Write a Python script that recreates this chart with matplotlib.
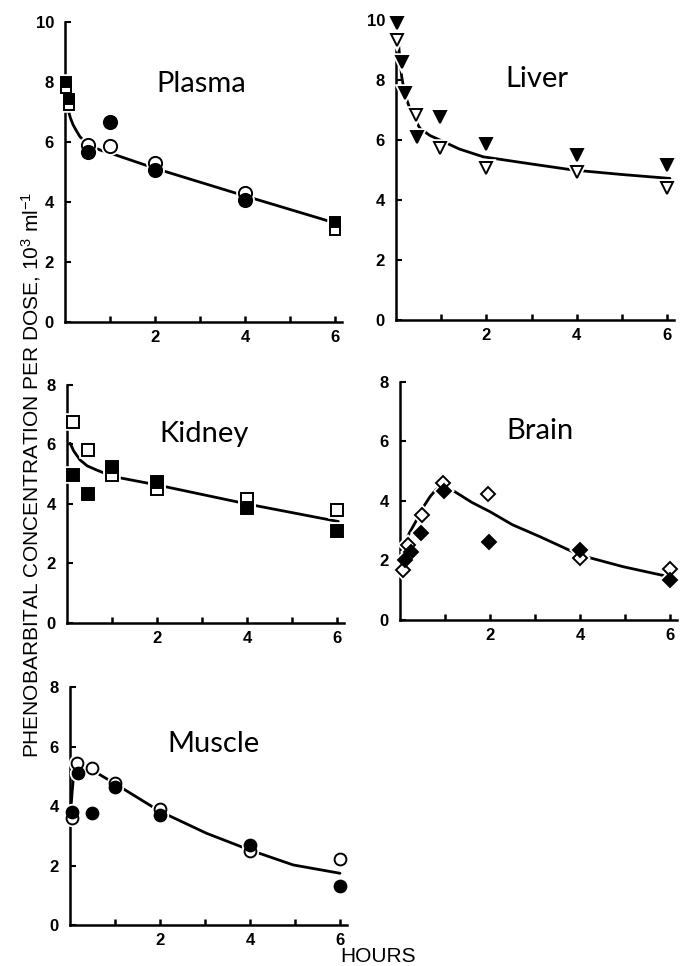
import matplotlib
matplotlib.use('Agg')
import matplotlib.pyplot as plt
from matplotlib import font_manager

# --- datos (horas, 10^3 ml^-1) ---
plasma_sq_t = [0.033, 0.083, 6]
plasma_sq_filled = [8.0, 7.43, 3.33]
plasma_sq_open = [7.8, 7.23, 3.07]
plasma_circ_t = [0.5, 1, 2, 4]
plasma_circ_filled = [5.67, 6.65, 5.07, 4.07]
plasma_circ_open = [5.9, 5.88, 5.3, 4.3]
plasma_fit_t = [0.07, 0.12, 0.18, 0.25, 0.33, 0.45, 0.6, 0.8, 1, 2, 4, 6]
plasma_fit = [7.07, 6.8, 6.57, 6.38, 6.18, 6.0, 5.85, 5.72, 5.63, 5.12, 4.2, 3.3]

liver_filled_t = [0.03, 0.13, 0.2, 0.47, 0.97, 2, 4, 6]
liver_filled = [9.9, 8.6, 7.57, 6.1, 6.77, 5.87, 5.5, 5.17]
liver_open_t = [0.03, 0.45, 0.97, 2, 4, 6]
liver_open = [9.33, 6.83, 5.73, 5.06, 4.95, 4.4]
liver_fit_t = [0.03, 0.08, 0.125, 0.18, 0.24, 0.35, 0.53, 0.75, 0.97, 1.4, 1.93, 3, 3.92, 5, 6.06]
liver_fit = [9.6, 8.8, 8.11, 7.65, 7.33, 6.85, 6.39, 6.15, 6.0, 5.7, 5.44, 5.2, 5.0, 4.85, 4.72]

kidney_t = [0.14, 0.47, 1, 2, 4, 6]
kidney_open = [6.77, 5.82, 4.97, 4.49, 4.16, 3.8]
kidney_filled = [4.97, 4.34, 5.23, 4.75, 3.85, 3.09]
kidney_fit_t = [0.07, 0.15, 0.29, 0.45, 0.66, 1.03, 2, 4, 6.03]
kidney_fit = [6.04, 5.78, 5.48, 5.28, 5.14, 4.92, 4.64, 4.0, 3.41]

brain_open_t = [0.07, 0.18, 0.48, 0.95, 1.96, 4, 6]
brain_open = [1.68, 2.52, 3.53, 4.62, 4.24, 2.07, 1.70]
brain_filled_t = [0.11, 0.24, 0.46, 0.98, 1.98, 4, 6]
brain_filled = [2.02, 2.30, 2.91, 4.35, 2.63, 2.35, 1.34]
brain_fit_t = [0.04, 0.2, 0.37, 0.52, 0.67, 0.8, 0.89, 1.0, 1.22, 1.6, 2.0, 2.5, 3.11, 4.0, 4.96, 5.96]
brain_fit = [2.35, 2.9, 3.36, 3.8, 4.15, 4.38, 4.48, 4.45, 4.31, 3.95, 3.64, 3.2, 2.80, 2.18, 1.79, 1.46]

muscle_open_t = [0.04, 0.15, 0.48, 1, 2, 4, 6]
muscle_open = [3.59, 5.43, 5.27, 4.78, 3.89, 2.50, 2.21]
muscle_filled_t = [0.04, 0.18, 0.48, 1, 2, 4, 6]
muscle_filled = [3.81, 5.10, 3.77, 4.63, 3.70, 2.69, 1.31]
muscle_fit_t = [0.02, 0.05, 0.08, 0.12, 0.2, 0.48, 1.0, 2.0, 3.04, 4.0, 4.96, 6.0]
muscle_fit = [3.9, 4.5, 5.0, 5.3, 5.35, 5.22, 4.75, 3.82, 3.08, 2.52, 2.02, 1.74]

plt.rcParams['font.family'] = ['Liberation Sans', 'DejaVu Sans']
plt.rcParams['mathtext.fontset'] = 'custom'
plt.rcParams['mathtext.rm'] = 'Liberation Sans'
plt.rcParams['mathtext.it'] = 'Liberation Sans:italic'

fuentes = {f.name for f in font_manager.fontManager.ttflist}
if 'Liberation Sans Narrow' in fuentes:
    fuente_titulo, tam_titulo = 'Liberation Sans Narrow', 24
else:
    fuente_titulo, tam_titulo = 'Lato', 21


def preparar_eje(ax, ymax, titulo, tx, ty):
    ax.set_xlim(0, 6.15)
    ax.set_ylim(0, ymax)
    for lado in ['top', 'right']:
        ax.spines[lado].set_visible(False)
    for lado in ['left', 'bottom']:
        ax.spines[lado].set_linewidth(1.8)
    ax.set_xticks([2, 4, 6])
    ax.set_xticks([1, 3, 5], minor=True)
    ax.set_yticks(range(0, ymax + 1, 2))
    ax.tick_params(axis='x', which='both', direction='in', length=4, width=1.8, pad=6)
    ax.tick_params(axis='y', direction='in', length=4, width=1.5, pad=8)
    for lab in ax.get_xticklabels() + ax.get_yticklabels():
        lab.set_fontweight('bold')
        lab.set_fontsize(12)
    ax.text(tx, ty, titulo, ha='center', va='baseline',
            family=fuente_titulo, fontsize=tam_titulo)


def puntos(ax, t, y, marcador, tam, relleno):
    # halo blanco para cortar la curva y el eje alrededor del punto
    ax.plot(t, y, linestyle='none', marker=marcador, markersize=tam,
            markerfacecolor='white', markeredgecolor='white',
            markeredgewidth=4, zorder=3, clip_on=False)
    cara = 'black' if relleno else 'white'
    ax.plot(t, y, linestyle='none', marker=marcador, markersize=tam,
            markerfacecolor=cara, markeredgecolor='black',
            markeredgewidth=1.4, zorder=5 if relleno else 4, clip_on=False)


def curva(ax, t, y):
    ax.plot(t, y, color='black', linewidth=2.0, zorder=2,
            solid_capstyle='round', clip_on=False)


fig = plt.figure(figsize=(6.8, 9.66), dpi=100)

# Plasma
ax1 = fig.add_axes([0.0956, 0.6667, 0.407, 0.3106])
preparar_eje(ax1, 10, 'Plasma', 3.02, 7.67)
curva(ax1, plasma_fit_t, plasma_fit)
puntos(ax1, plasma_sq_t, plasma_sq_open, 's', 7.5, False)
puntos(ax1, plasma_sq_t, plasma_sq_filled, 's', 7.5, True)
puntos(ax1, plasma_circ_t, plasma_circ_open, 'o', 9.5, False)
puntos(ax1, plasma_circ_t, plasma_circ_filled, 'o', 9.5, True)

# Liver
ax2 = fig.add_axes([0.5824, 0.6687, 0.4088, 0.3106])
preparar_eje(ax2, 10, 'Liver', 3.12, 7.78)
curva(ax2, liver_fit_t, liver_fit)
puntos(ax2, liver_open_t, liver_open, 'v', 8.5, False)
puntos(ax2, liver_filled_t, liver_filled, 'v', 8.5, True)

# Kidney
ax3 = fig.add_axes([0.0985, 0.3551, 0.407, 0.2464])
preparar_eje(ax3, 8, 'Kidney', 3.04, 6.09)
curva(ax3, kidney_fit_t, kidney_fit)
puntos(ax3, kidney_t, kidney_open, 's', 8.5, False)
puntos(ax3, kidney_t, kidney_filled, 's', 8.5, True)

# Brain
ax4 = fig.add_axes([0.5882, 0.3582, 0.407, 0.2464])
preparar_eje(ax4, 8, 'Brain', 3.11, 6.07)
curva(ax4, brain_fit_t, brain_fit)
puntos(ax4, brain_open_t, brain_open, 'D', 7.5, False)
puntos(ax4, brain_filled_t, brain_filled, 'D', 7.5, True)

# Muscle
ax5 = fig.add_axes([0.1029, 0.0424, 0.407, 0.2464])
preparar_eje(ax5, 8, 'Muscle', 3.2, 5.83)
curva(ax5, muscle_fit_t, muscle_fit)
puntos(ax5, muscle_open_t, muscle_open, 'o', 8.5, False)
puntos(ax5, muscle_filled_t, muscle_filled, 'o', 8.5, True)

fig.text(0.046, 0.508, r'PHENOBARBITAL CONCENTRATION PER DOSE, 10$^3$ ml$^{-1}$',
         rotation=90, ha='center', va='center', fontsize=15)
fig.text(0.5, 0.004, 'HOURS', ha='left', va='baseline', fontsize=15)

fig.savefig('out.png', dpi=100)
plt.close(fig)
